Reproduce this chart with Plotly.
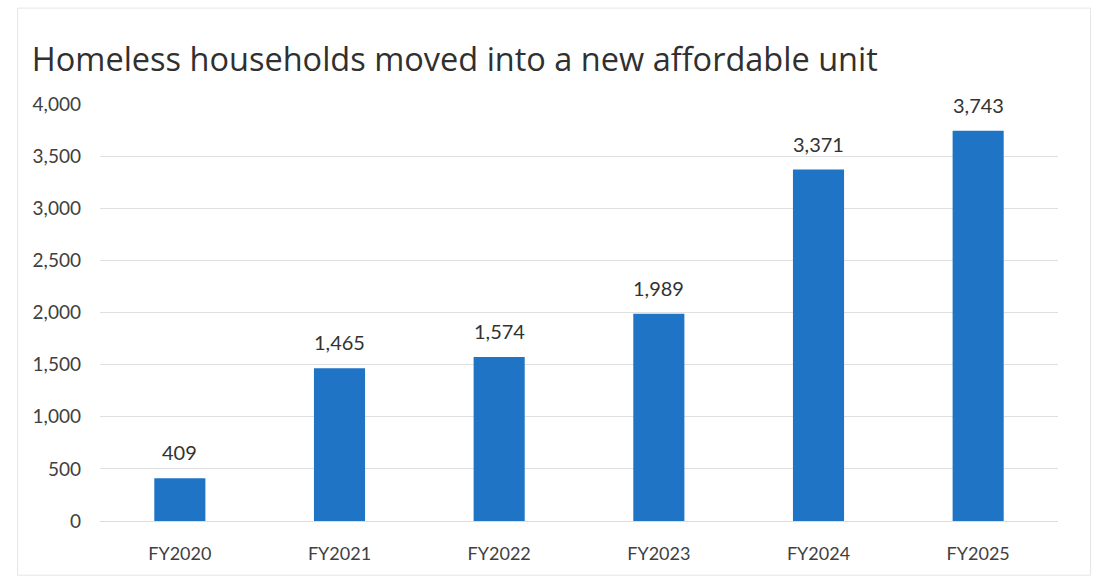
import plotly.graph_objects as go

categories = ["FY2020", "FY2021", "FY2022", "FY2023", "FY2024", "FY2025"]
values = [409, 1465, 1574, 1989, 3371, 3743]
y_ticks = [0, 500, 1000, 1500, 2000, 2500, 3000, 3500, 4000]
title_text = "Homeless households moved into a new affordable unit"

FONT = "Lato, 'Open Sans', sans-serif"
TITLE_FONT = "'Open Sans', Lato, sans-serif"

fig = go.Figure(go.Bar(
    x=categories,
    y=values,
    marker=dict(color="#1f74c6", line=dict(width=0)),
    width=0.32,
))

for c, v in zip(categories, values):
    fig.add_annotation(
        x=c, y=v, text=f"{v:,}", showarrow=False,
        yanchor="middle", yshift=26,
        font=dict(family=FONT, size=20, color="#333333"),
    )

fig.update_layout(
    width=1097, height=584,
    paper_bgcolor="white", plot_bgcolor="white",
    margin=dict(l=100, r=39, t=104, b=63),
    showlegend=False,
    title=dict(
        text=title_text,
        x=0.029, xanchor="left", xref="container",
        y=0.898, yanchor="middle", yref="container",
        font=dict(family=TITLE_FONT, size=32.5, color="#303030"),
    ),
    xaxis=dict(
        showgrid=False, showline=False, ticks="",
        tickfont=dict(family=FONT, size=18, color="#404040"),
        ticklabelstandoff=20,
    ),
    yaxis=dict(
        range=[0, 4000],
        tickvals=y_ticks,
        tickformat=",",
        showgrid=True, gridcolor="#e0e0e0", gridwidth=1,
        zeroline=True, zerolinecolor="#dcdcdc", zerolinewidth=1,
        showline=False, ticks="",
        tickfont=dict(family=FONT, size=19, color="#404040"),
        ticklabelstandoff=18,
    ),
    shapes=[dict(
        type="rect", xref="paper", yref="paper",
        x0=-0.086, x1=1.034, y0=-0.13, y1=1.23,
        line=dict(color="#e6e6e6", width=1),
    )],
)

fig.write_html("out.html")
